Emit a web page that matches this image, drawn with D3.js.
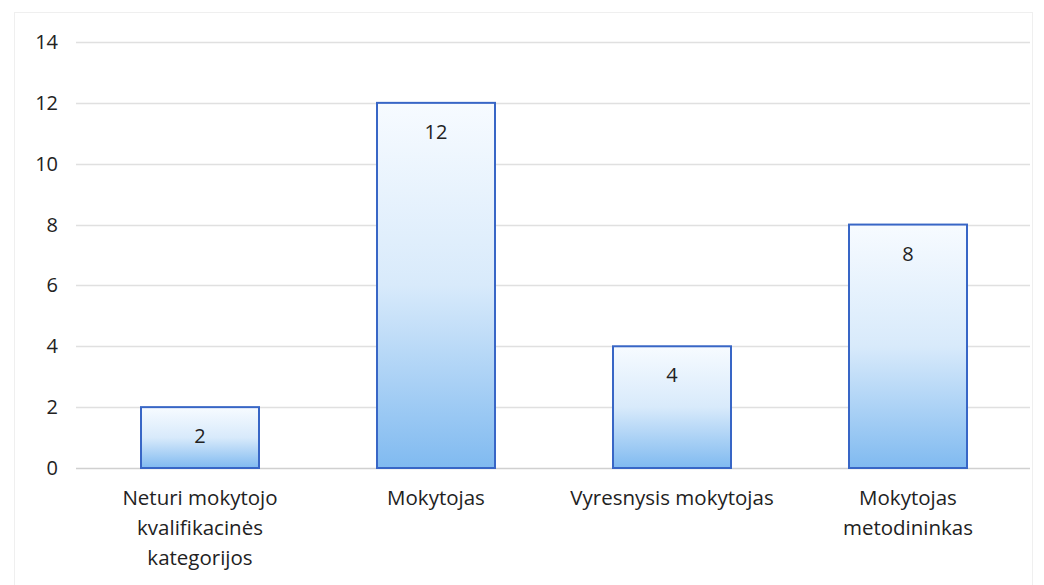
<!DOCTYPE html>
<html>
<head>
<meta charset="utf-8">
<script src="https://cdn.jsdelivr.net/npm/d3@7"></script>
<style>
  body { margin: 0; background: #fff; }
  text { font-family: "Open Sans", "Liberation Sans", sans-serif; fill: #222; }
</style>
</head>
<body>
<div id="chart"></div>
<script>
const categories = [
  ["Neturi mokytojo", "kvalifikacinės", "kategorijos"],
  ["Mokytojas"],
  ["Vyresnysis mokytojas"],
  ["Mokytojas", "metodininkas"]
];
const values = [2, 12, 4, 8];
const yTicks = [0, 2, 4, 6, 8, 10, 12, 14];

const W = 1044, H = 585;
const margin = { top: 42, left: 82, right: 18, bottom: 117 };

const svg = d3.select("#chart").append("svg")
  .attr("width", W).attr("height", H);

// faint outer frame
svg.append("rect")
  .attr("x", 14.5).attr("y", 12.5)
  .attr("width", W - 26).attr("height", H - 10)
  .attr("fill", "none").attr("stroke", "#efefef");

const x = d3.scaleBand()
  .domain(d3.range(values.length))
  .range([margin.left, W - margin.right])
  .paddingInner(0.5).paddingOuter(0.25);

const y = d3.scaleLinear()
  .domain([0, 14])
  .range([H - margin.bottom, margin.top]);

const defs = svg.append("defs");
const grad = defs.append("linearGradient")
  .attr("id", "barGrad")
  .attr("x1", 0).attr("y1", 0).attr("x2", 0).attr("y2", 1);
grad.append("stop").attr("offset", "0%").attr("stop-color", "#f7fbff");
grad.append("stop").attr("offset", "50%").attr("stop-color", "#d8eafb");
grad.append("stop").attr("offset", "100%").attr("stop-color", "#80baf0");

// gridlines
svg.append("g")
  .selectAll("line")
  .data(yTicks)
  .join("line")
  .attr("x1", 76).attr("x2", 1030)
  .attr("y1", d => Math.round(y(d)) + 0.5)
  .attr("y2", d => Math.round(y(d)) + 0.5)
  .attr("stroke", d => d === 0 ? "#d0d0d0" : "#e0e0e0")
  .attr("stroke-width", 1.5);

// y tick labels
svg.append("g")
  .selectAll("text")
  .data(yTicks)
  .join("text")
  .attr("x", 58)
  .attr("y", d => y(d))
  .attr("dy", "0.35em")
  .attr("text-anchor", "end")
  .style("font-size", "20px")
  .text(d => d);

// bars
svg.append("g")
  .selectAll("rect")
  .data(values)
  .join("rect")
  .attr("x", (d, i) => x(i))
  .attr("y", d => y(d))
  .attr("width", x.bandwidth())
  .attr("height", d => y(0) - y(d))
  .attr("fill", "url(#barGrad)")
  .attr("stroke", "#3866c6")
  .attr("stroke-width", 2);

// value labels
svg.append("g")
  .selectAll("text")
  .data(values)
  .join("text")
  .attr("x", (d, i) => x(i) + x.bandwidth() / 2)
  .attr("y", d => y(d) + 36)
  .attr("text-anchor", "middle")
  .style("font-size", "20px")
  .text(d => d);

// category labels
const cat = svg.append("g")
  .selectAll("text")
  .data(categories)
  .join("text")
  .attr("x", (d, i) => x(i) + x.bandwidth() / 2)
  .attr("y", 505)
  .attr("text-anchor", "middle")
  .style("font-size", "20.5px");

cat.selectAll("tspan")
  .data(d => d)
  .join("tspan")
  .attr("x", function() { return d3.select(this.parentNode).attr("x"); })
  .attr("dy", (d, i) => i === 0 ? 0 : 30)
  .text(d => d);
</script>
</body>
</html>
